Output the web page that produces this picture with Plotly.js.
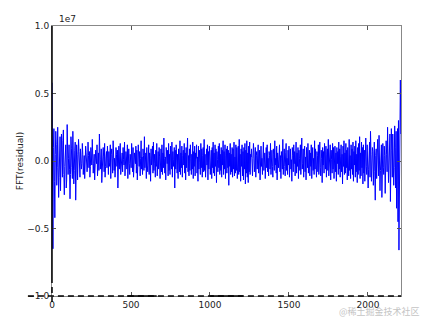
<!DOCTYPE html>
<html>
<head>
<meta charset="utf-8">
<script src="https://cdn.plot.ly/plotly-3.0.1.min.js"></script>
<style>html,body{margin:0;padding:0;background:#fff;}#chart{width:425px;height:318px;}</style>
</head>
<body>
<div id="chart"></div>
<script>
// FFT residual values, in units of 1e7, sampled every `sampleStep` along x
const sampleStep = 3;
const residual = [
  0.58, -0.2, -0.65, 0.1, 0.24, -0.15, -0.42, 0.05, 0.22, 0.12, -0.18, -0.05, 0.25, 0.03, -0.27, -0.12, 0.1, 0.18, -0.22, -0.08,
  0.2, 0.06, -0.12, 0.15, 0.23, -0.1, -0.25, -0.04, 0.05, 0.12, -0.2, -0.14, 0.27, 0.08, -0.1, 0.02, 0.12, -0.06, -0.28, -0.1,
  0.18, 0.09, -0.05, -0.13, 0.22, 0.04, -0.17, -0.07, 0.08, 0.14, -0.29, -0.06, 0.12, 0.05, -0.14, -0.02, 0.16, 0.07, -0.08, -0.12,
  0.09, 0.03, -0.06, -0.02, 0.13, 0.05, -0.1, 0.01, 0.04, -0.13, -0.05, 0.11, 0.06, 0.02, -0.08, -0.03, 0.14, 0.04, -0.05, 0.07,
  -0.12, -0.04, 0.1, 0.03, -0.03, 0.16, 0.05, -0.09, -0.02, 0.05, -0.14, -0.06, 0.08, 0.02, -0.02, 0.12, -0.11, -0.03, 0.06, -0.07,
  0.2, 0.04, -0.06, 0.01, 0.09, -0.16, -0.05, 0.04, 0.1, 0.03, -0.08, 0.13, -0.12, -0.04, 0.03, 0.07, -0.05, 0.11, 0.02, -0.1,
  0.07, -0.04, -0.01, 0.12, -0.13, 0.05, 0.09, 0.02, -0.09, 0.15, 0.04, -0.07, 0.02, -0.12, -0.03, 0.1, 0.05, -0.04, 0.08, -0.2,
  0.06, 0.11, -0.06, 0.02, 0.13, -0.1, -0.03, 0.04, 0.06, -0.08, 0.1, 0.01, -0.03, 0.14, -0.11, -0.02, 0.07, 0.03, -0.06, 0.12,
  -0.13, 0.03, 0.09, -0.02, -0.1, 0.05, 0.01, -0.05, 0.13, 0.04, -0.08, 0.1, -0.12, -0.03, 0.06, 0.02, -0.02, 0.11, -0.09, 0.08,
  -0.14, -0.04, 0.12, 0.03, -0.04, 0.07, -0.11, 0.02, 0.15, -0.06, 0.03, -0.1, 0.09, 0.04, -0.07, 0.18, -0.05, 0.01, 0.06, -0.13,
  0.1, -0.03, -0.08, 0.04, 0.12, -0.1, 0.06, 0.02, -0.15, 0.09, -0.03, 0.03, 0.11, -0.09, 0.14, -0.07, 0.05, -0.02, -0.12, 0.08,
  -0.04, 0.13, -0.11, 0.02, 0.07, -0.06, 0.1, 0.03, -0.13, 0.04, 0.09, -0.08, 0.12, -0.1, 0.06, -0.05, 0.17, 0.02, -0.09, 0.03,
  -0.14, 0.1, 0.04, -0.02, 0.08, -0.11, 0.13, -0.07, 0.05, -0.1, 0.11, 0.02, -0.06, 0.14, -0.12, 0.07, -0.04, 0.01, 0.1, -0.2,
  0.08, -0.06, 0.12, 0.03, -0.09, 0.05, -0.13, 0.09, 0.02, -0.08, 0.15, -0.1, 0.06, -0.05, 0.11, -0.12, 0.04, 0.08, -0.03, 0.13,
  -0.09, 0.06, -0.14, 0.1, -0.05, 0.03, 0.17, -0.08, 0.04, -0.11, 0.09, -0.07, 0.12, 0.02, -0.1, 0.05, -0.06, 0.14, -0.13, 0.07,
  -0.04, 0.11, -0.11, 0.06, 0.02, 0.12, -0.09, 0.03, -0.15, 0.11, -0.06, 0.08, -0.01, -0.1, 0.13, -0.05, 0.09, -0.12, 0.04, 0.1,
  -0.08, 0.16, -0.07, 0.05, -0.12, 0.02, 0.09, -0.03, 0.12, -0.14, 0.07, -0.06, 0.11, 0.03, -0.1, 0.04, 0.08, -0.13, 0.1, -0.05,
  0.14, -0.09, 0.06, -0.11, 0.12, -0.04, 0.09, -0.16, 0.07, 0.01, -0.08, 0.11, -0.05, 0.13, -0.1, 0.05, -0.07, 0.1, -0.12, 0.08,
  -0.03, 0.15, -0.1, 0.07, -0.06, 0.12, -0.13, 0.04, 0.09, -0.09, 0.11, -0.05, 0.08, -0.18, 0.06, -0.04, 0.13, -0.1, 0.05, -0.08,
  0.1, -0.12, 0.09, -0.06, 0.14, -0.11, 0.03, -0.09, 0.12, -0.07, 0.1, -0.13, 0.06, 0.11, -0.1, 0.16, -0.08, 0.05, -0.15, 0.09,
  -0.04, 0.12, -0.11, 0.07, -0.14, 0.1, -0.06, 0.13, -0.17, 0.08, -0.09, 0.15, -0.12, 0.06, -0.16, 0.11, -0.08, 0.14, -0.1, 0.05,
  0.03, 0.09, -0.05, -0.11, 0.02, 0.13, 0.06, -0.08, -0.03, 0.1, -0.12, 0.04, 0.07, -0.06, 0.01, 0.12, -0.09, -0.02, 0.08, -0.14,
  0.05, 0.11, -0.04, 0.02, -0.1, 0.08, 0.14, -0.07, -0.01, 0.06, -0.13, 0.03, 0.1, -0.05, 0.12, -0.08, 0.02, -0.11, 0.07, 0.04,
  -0.06, 0.13, -0.1, 0.03, 0.08, -0.04, -0.12, 0.09, 0.05, -0.07, 0.15, -0.03, 0.02, -0.09, 0.11, -0.14, 0.06, 0.01, -0.05, 0.1,
  0.12, -0.08, 0.04, -0.13, 0.07, 0.02, -0.06, 0.16, -0.1, 0.03, 0.09, -0.04, -0.11, 0.06, 0.13, -0.07, 0.02, -0.1, 0.08, -0.03,
  0.11, -0.12, 0.05, 0.09, -0.06, 0.01, -0.15, 0.1, 0.04, -0.08, 0.12, -0.02, 0.07, -0.11, 0.03, 0.14, -0.09, 0.06, -0.04, 0.1,
  -0.13, 0.08, 0.02, -0.07, 0.12, -0.1, 0.05, 0.17, -0.06, -0.02, 0.09, -0.12, 0.04, 0.11, -0.08, 0.03, -0.14, 0.1, 0.06, -0.05,
  0.13, -0.09, 0.01, 0.08, -0.11, 0.06, -0.04, 0.12, -0.13, 0.05, 0.1, -0.07, 0.02, -0.1, 0.15, -0.06, 0.09, -0.03, -0.12, 0.07,
  0.04, -0.08, 0.12, -0.1, 0.06, 0.14, -0.05, -0.11, 0.08, 0.02, -0.16, 0.1, -0.03, 0.07, -0.09, 0.13, 0.03, -0.06, 0.11, -0.12,
  0.05, 0.09, -0.07, 0.16, -0.11, 0.03, -0.05, 0.12, -0.14, 0.08, 0.01, -0.09, 0.13, -0.06, 0.1, -0.13, 0.04, 0.11, -0.08, 0.06,
  -0.15, 0.1, -0.02, 0.07, -0.1, 0.14, -0.06, 0.09, -0.12, 0.03, 0.12, -0.08, 0.05, -0.17, 0.11, -0.04, 0.15, -0.1, 0.06, -0.09,
  0.13, -0.05, 0.08, -0.14, 0.1, 0.02, -0.11, 0.16, -0.07, 0.04, -0.13, 0.12, -0.06, 0.09, -0.1, 0.14, -0.15, 0.07, -0.03, 0.11,
  -0.12, 0.15, -0.08, 0.05, -0.16, 0.1, -0.1, 0.13, -0.07, 0.18, -0.13, 0.06, -0.11, 0.14, -0.05, 0.1, -0.17, 0.12, -0.09, 0.08,
  -0.15, 0.06, 0.17, -0.04, -0.1, 0.12, 0.03, -0.2, -0.06, 0.08, 0.14, -0.12, 0.22, 0.05, -0.15, -0.03, 0.1, 0.07, -0.18, 0.02,
  0.14, -0.08, -0.29, 0.04, 0.09, -0.13, -0.02, 0.16, 0.06, -0.11, 0.19, 0.03, -0.22, -0.07, 0.07, 0.12, -0.27, 0.01, 0.13, -0.05,
  -0.1, 0.11, 0.04, -0.24, -0.09, 0.15, 0.05, -0.08, 0.25, 0.1, -0.16, -0.03, 0.12, 0.2, -0.3, -0.12, 0.24, 0.08, -0.12, 0.2,
  0.06, -0.18, -0.05, 0.26, 0.1, -0.2, 0.22, -0.35, 0.15, 0.24, -0.45, 0.3, -0.66, 0.1, 0.45, 0.6, 0.2
];
const xTicks = [0, 500, 1000, 1500, 2000];
const xTickLabels = ['0', '500', '1000', '1500', '2000'];
const yTicks = [-1.0, -0.5, 0.0, 0.5, 1.0];
const yTickLabels = ['\u22121.0', '\u22120.5', '0.0', '0.5', '1.0'];
const xRange = [0, 2209];
const yRange = [-1.0, 1.0];

const trace = {
  type: 'scatter', mode: 'lines',
  y: residual, x0: 0, dx: sampleStep,
  line: {color: '#0000ff', width: 1},
  hoverinfo: 'skip'
};

const font = {family: 'DejaVu Sans, sans-serif', size: 9, color: '#222'};
const axisCommon = {
  showgrid: false, zeroline: false, showline: true, linecolor: '#888', linewidth: 1,
  mirror: 'ticks', ticks: 'inside', ticklen: 4, tickcolor: '#555', tickwidth: 1,
  tickfont: font, tickmode: 'array'
};

const layout = {
  width: 425, height: 318,
  margin: {l: 52, r: 24, t: 26, b: 22},
  paper_bgcolor: '#fff', plot_bgcolor: '#fff',
  showlegend: false,
  font: font,
  xaxis: Object.assign({}, axisCommon, {range: xRange, tickvals: xTicks, ticktext: xTickLabels}),
  yaxis: Object.assign({}, axisCommon, {range: yRange, tickvals: yTicks, ticktext: yTickLabels,
    title: {text: 'FFT(residual)', font: {family: 'DejaVu Sans, sans-serif', size: 9, color: '#222'}, standoff: 2}}),
  shapes: [
    {type: 'line', xref: 'paper', yref: 'paper', x0: 0, x1: 0, y0: 1, y1: 0.07, line: {color: '#000', width: 1.5}},
    {type: 'line', xref: 'paper', yref: 'paper', x0: 0, x1: 0, y0: 0.07, y1: -0.022, line: {color: '#000', width: 1.5, dash: '6px,4px'}},
    {type: 'line', xref: 'paper', yref: 'paper', x0: -0.069, x1: 1, y0: 0, y1: 0, line: {color: '#000', width: 1.5, dash: '6px,4px'}},
    {type: 'line', xref: 'paper', yref: 'paper', x0: 0.215, x1: 0.30, y0: 0, y1: 0, line: {color: '#000', width: 1.5}},
    {type: 'line', xref: 'paper', yref: 'paper', x0: 0.453, x1: 0.547, y0: 0, y1: 0, line: {color: '#000', width: 1.5}}
  ],
  annotations: [
    {text: '1e7', xref: 'paper', yref: 'paper', x: 0.015, y: 1, xanchor: 'left', yanchor: 'bottom', showarrow: false,
     font: {family: 'DejaVu Sans, sans-serif', size: 9, color: '#222'}},
    {text: '@稀土掘金技术社区', xref: 'paper', yref: 'paper', x: 1.058, y: -0.058, xanchor: 'right', yanchor: 'middle', showarrow: false,
     borderpad: 0, font: {family: 'Noto Sans CJK SC, sans-serif', size: 9, color: '#c4c4c4'}}
  ]
};

Plotly.newPlot('chart', [trace], layout, {staticPlot: true, displayModeBar: false});
</script>
</body>
</html>
